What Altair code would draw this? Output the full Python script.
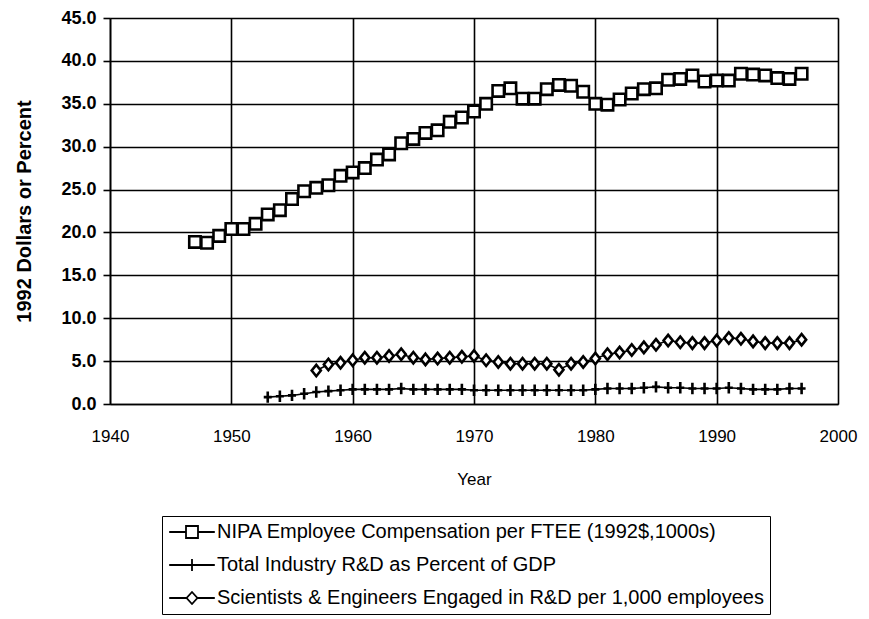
import altair as alt
import pandas as pd

# ---- data ----
nipa_start = 1947
nipa_values = [18.9, 18.8, 19.6, 20.4, 20.4, 21.0, 22.1, 22.6, 23.9, 24.8,
               25.2, 25.5, 26.6, 27.0, 27.5, 28.5, 29.1, 30.4, 30.9, 31.6,
               31.9, 32.9, 33.4, 34.1, 35.0, 36.5, 36.8, 35.6, 35.6, 36.7,
               37.2, 37.1, 36.4, 35.0, 34.9, 35.5, 36.2, 36.7, 36.8, 37.8,
               37.9, 38.3, 37.6, 37.7, 37.7, 38.5, 38.4, 38.3, 38.0, 37.9,
               38.5]

rd_start = 1953
rd_values = [0.8, 0.9, 1.0, 1.2, 1.4, 1.5, 1.6, 1.7, 1.7, 1.7,
             1.7, 1.8, 1.7, 1.7, 1.7, 1.7, 1.7, 1.6, 1.6, 1.6,
             1.6, 1.6, 1.6, 1.6, 1.6, 1.6, 1.6, 1.7, 1.8, 1.8,
             1.8, 1.9, 2.0, 1.9, 1.9, 1.8, 1.8, 1.8, 1.9, 1.8,
             1.7, 1.7, 1.7, 1.8, 1.8]

se_start = 1957
se_values = [3.9, 4.6, 4.8, 5.1, 5.4, 5.4, 5.6, 5.8, 5.4, 5.2,
             5.3, 5.4, 5.5, 5.6, 5.1, 4.9, 4.7, 4.7, 4.7, 4.7,
             4.0, 4.7, 4.9, 5.3, 5.8, 6.0, 6.3, 6.6, 6.9, 7.4,
             7.2, 7.1, 7.1, 7.4, 7.7, 7.6, 7.3, 7.1, 7.1, 7.1,
             7.5]

series_names = [
    "NIPA Employee Compensation per FTEE (1992$,1000s)",
    "Total Industry R&D as Percent of GDP",
    "Scientists & Engineers Engaged in R&D per 1,000 employees",
]
x_ticks = [1940, 1950, 1960, 1970, 1980, 1990, 2000]
y_ticks = [0, 5, 10, 15, 20, 25, 30, 35, 40, 45]

rows = []
for name, start, vals in zip(series_names, [nipa_start, rd_start, se_start],
                             [nipa_values, rd_values, se_values]):
    for i, v in enumerate(vals):
        rows.append({"Year": start + i, "Value": v, "Series": name})
df = pd.DataFrame(rows)

FONT = "Liberation Sans"

x_enc = alt.X("Year:Q",
              scale=alt.Scale(domain=[1940, 2000], nice=False, zero=False),
              axis=alt.Axis(values=x_ticks, format="d", grid=True,
                            gridColor="black", gridWidth=1.6,
                            tickSize=0, labelPadding=24, labelFlush=False,
                            labelOverlap=False, labelFont=FONT,
                            labelFontSize=17, labelColor="black",
                            domainColor="black", domainWidth=1.6,
                            title="Year", titleFont=FONT, titleFontSize=17,
                            titleFontWeight="normal", titleColor="black",
                            titlePadding=27))
y_enc = alt.Y("Value:Q",
              scale=alt.Scale(domain=[0, 45], nice=False),
              axis=alt.Axis(values=y_ticks, format=".1f", grid=True,
                            gridColor="black", gridWidth=1.6,
                            tickSize=7, tickColor="black", tickWidth=1.6,
                            labelPadding=7, labelFlush=False,
                            labelOverlap=False, labelFont=FONT,
                            labelFontSize=18, labelFontWeight="bold",
                            labelColor="black",
                            domainColor="black", domainWidth=1.6,
                            title="1992 Dollars or Percent", titleFont=FONT,
                            titleFontSize=20, titleFontWeight="bold",
                            titleColor="black", titlePadding=26))

lines = alt.Chart(df).mark_line(color="black", strokeWidth=1.6).encode(
    x=x_enc, y=y_enc, detail="Series:N")

plot_shapes = ["square", "M-0.7,0H0.7M0,-1V1", "M0,-1L0.8,0L0,1L-0.8,0Z"]
points = alt.Chart(df).mark_point(filled=True, fill="white", stroke="black",
                                  strokeWidth=2.6, size=130, opacity=1).encode(
    x=x_enc, y=y_enc,
    shape=alt.Shape("Series:N", sort=series_names,
                    scale=alt.Scale(domain=series_names, range=plot_shapes),
                    legend=None))

legend_shapes = ["M-3.8,0H-1M1,0H3.8M-1,-1H1V1H-1Z",
                 "M-3.8,0H3.8M0,-1V1",
                 "M-3.8,0H-0.9M0.9,0H3.8M0,-1L0.9,0L0,1L-0.9,0Z"]
legend_layer = alt.Chart(df).mark_point(opacity=0, size=144).encode(
    x=x_enc, y=y_enc,
    shape=alt.Shape("Series:N", sort=series_names,
                    scale=alt.Scale(domain=series_names, range=legend_shapes),
                    legend=alt.Legend(title=None, orient="none",
                                      legendX=52, legendY=498,
                                      direction="vertical",
                                      symbolSize=144, symbolStrokeWidth=1.8,
                                      symbolStrokeColor="black",
                                      symbolFillColor="white",
                                      symbolOpacity=1, symbolOffset=14,
                                      labelFont=FONT, labelFontSize=20,
                                      labelColor="black", labelOffset=15,
                                      labelLimit=800,
                                      rowPadding=13, padding=6,
                                      strokeColor="black", fillColor="white")))

chart = alt.layer(lines, points, legend_layer).resolve_scale(
    shape="independent"
).properties(
    width=728, height=386,
    autosize=alt.AutoSizeParams(type="none"),
    padding={"left": 102, "top": 10, "right": 23, "bottom": 215},
).configure_view(stroke="black", strokeWidth=1.6).configure(background="white")

chart.save("out.html", embed_options={"renderer": "svg", "actions": False})
